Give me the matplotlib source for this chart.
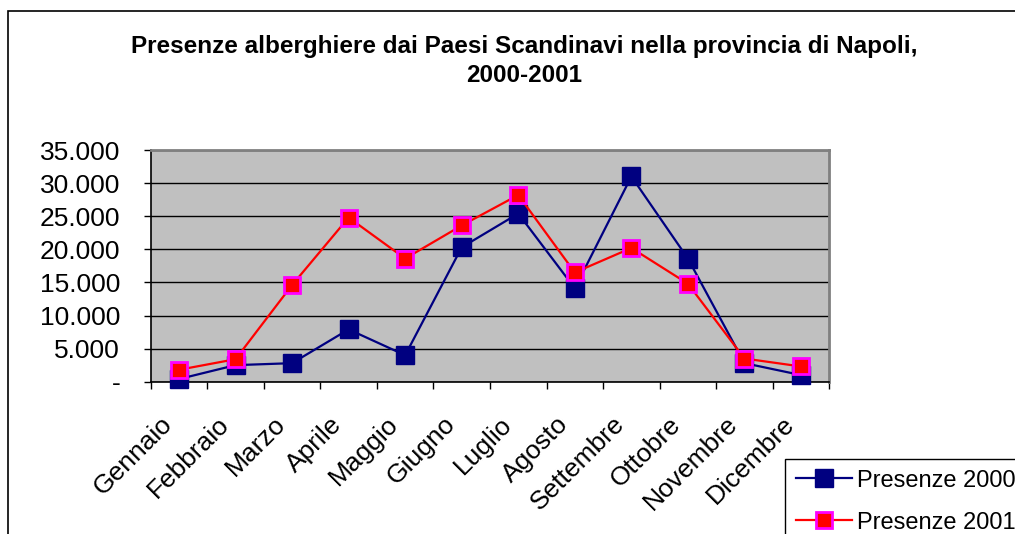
import matplotlib
matplotlib.use("Agg")
import matplotlib.pyplot as plt
from matplotlib.patches import Rectangle
from matplotlib.lines import Line2D
from matplotlib.transforms import ScaledTranslation

plt.rcParams['font.family'] = ['Liberation Sans', 'DejaVu Sans']

months = ["Gennaio", "Febbraio", "Marzo", "Aprile", "Maggio", "Giugno",
          "Luglio", "Agosto", "Settembre", "Ottobre", "Novembre", "Dicembre"]
presenze_2000 = [400, 2500, 2800, 7900, 4000, 20300, 25400, 14100, 31000, 18600, 2800, 1000]
presenze_2001 = [1800, 3400, 14600, 24800, 18600, 23600, 28200, 16500, 20200, 14800, 3500, 2300]
y_ticks = [0, 5000, 10000, 15000, 20000, 25000, 30000, 35000]
y_tick_labels = ["-", "5.000", "10.000", "15.000", "20.000", "25.000", "30.000", "35.000"]
title = "Presenze alberghiere dai Paesi Scandinavi nella provincia di Napoli,\n2000-2001"
series_labels = ["Presenze 2000", "Presenze 2001"]

W, H = 1015, 534
FS = 19
LFS = 17
fig = plt.figure(figsize=(W / 100, H / 100), dpi=100)
fig.patch.set_facecolor("white")

# outer chart-area border (cut at right/bottom)
fig.add_artist(Rectangle((8 / W, -0.1), 1.2, (H - 11) / H + 0.1,
                         transform=fig.transFigure, fill=False,
                         edgecolor="black", linewidth=1.2))

left, right, top, bottom = 150.7, 829.3, 150.0, 381.7
ax = fig.add_axes([left / W, (H - bottom) / H, (right - left) / W, (bottom - top) / H])
ax.set_facecolor("#C0C0C0")

x = list(range(len(months)))
ax.plot(x, presenze_2000, color="#000080", linewidth=1.6, marker="s",
        markersize=13, markerfacecolor="#000080", markeredgecolor="#000080",
        markeredgewidth=1, zorder=3, clip_on=False)
ax.plot(x, presenze_2001, color="#FF0000", linewidth=1.6, marker="s",
        markersize=12, markerfacecolor="#FF0000", markeredgecolor="#FF00FF",
        markeredgewidth=2, zorder=4, clip_on=False)

ax.set_xlim(-0.5, len(months) - 0.5)
ax.set_ylim(0, 35000)

ax.set_yticks(y_ticks)
ax.set_yticklabels(y_tick_labels, fontsize=FS)
ax.tick_params(axis="y", direction="out", length=5, width=1, pad=17, color="black")
ax.yaxis.grid(True, color="black", linewidth=1)
ax.set_axisbelow(True)

ax.set_xticks([i - 0.5 for i in range(len(months) + 1)])
ax.set_xticklabels([])
ax.set_xticks(x, minor=True)
ax.set_xticklabels(months, minor=True, rotation=45, ha="right",
                   rotation_mode="anchor", va="top", fontsize=FS)
ax.tick_params(axis="x", which="major", direction="out", length=5, width=1, color="black")
ax.tick_params(axis="x", which="minor", length=0, pad=14)
offset = ScaledTranslation(-19 / 100, -11 / 100, fig.dpi_scale_trans)
for lab in ax.get_xticklabels(minor=True):
    lab.set_transform(lab.get_transform() + offset)

for s in ["left", "bottom"]:
    ax.spines[s].set_color("black")
    ax.spines[s].set_linewidth(1.2)
for s in ["top", "right"]:
    ax.spines[s].set_color("#808080")
    ax.spines[s].set_linewidth(2)

fig.text(524 / W, 1 - 61 / H, title, ha="center", va="center",
         fontsize=17.5, fontweight="bold", linespacing=1.36)

handles = [
    Line2D([], [], color="#000080", linewidth=1.6, marker="s", markersize=13,
           markerfacecolor="#000080", markeredgecolor="#000080"),
    Line2D([], [], color="#FF0000", linewidth=1.6, marker="s", markersize=12,
           markerfacecolor="#FF0000", markeredgecolor="#FF00FF", markeredgewidth=2),
]
leg = fig.legend(handles, series_labels, loc="upper left",
                 bbox_to_anchor=(785 / W, 1 - 459 / H), fontsize=LFS,
                 frameon=True, fancybox=False, edgecolor="black", framealpha=1,
                 handlelength=2.37, handletextpad=0.25, labelspacing=0.85,
                 borderpad=0.45, borderaxespad=0)
leg.get_frame().set_linewidth(1)

fig.savefig("out.png", dpi=100)
